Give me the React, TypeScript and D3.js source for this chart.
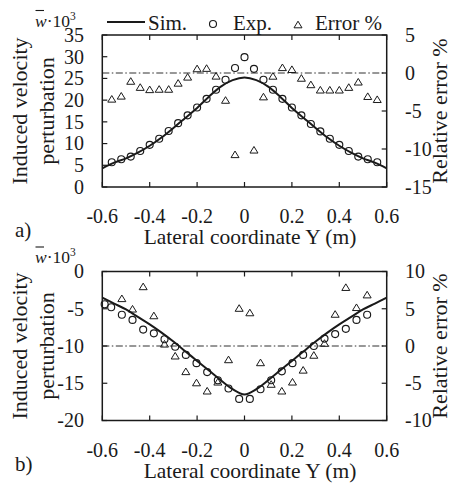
import React from "react";
import * as d3 from "d3";

// ---------- Panel a data ----------
const expAY = [-0.56, -0.52, -0.48, -0.44, -0.4, -0.36, -0.32, -0.28, -0.24, -0.2, -0.16, -0.12, -0.08, -0.04, 0, 0.04, 0.08, 0.12, 0.16, 0.2, 0.24, 0.28, 0.32, 0.36, 0.4, 0.44, 0.48, 0.52, 0.56];
const expAV = [5.7, 6.4, 7.0, 8.3, 9.7, 11.1, 12.9, 14.7, 16.5, 18.3, 20.3, 22.4, 24.7, 27.4, 29.9, 27.2, 24.7, 22.4, 20.3, 18.3, 16.5, 14.5, 12.8, 11.1, 9.7, 8.3, 7.0, 6.4, 5.7];
const errAY = [-0.56, -0.52, -0.48, -0.44, -0.4, -0.36, -0.32, -0.28, -0.24, -0.2, -0.16, -0.12, -0.08, -0.04, 0.04, 0.08, 0.12, 0.16, 0.2, 0.24, 0.28, 0.32, 0.36, 0.4, 0.44, 0.48, 0.52, 0.56];
const errAV = [-3.4, -3.0, -1.05, -1.85, -2.15, -2.1, -2.1, -1.3, -0.5, 0.6, 0.65, -0.37, -3.55, -10.7, -10.1, -3.1, -0.38, 0.75, 0.5, -0.65, -1.5, -2.2, -2.2, -2.2, -1.85, -1.15, -3.05, -3.45];
const simAY = [-0.6, -0.55, -0.5, -0.45, -0.4, -0.35, -0.3, -0.25, -0.2, -0.15, -0.1, -0.05, 0, 0.05, 0.1, 0.15, 0.2, 0.25, 0.3, 0.35, 0.4, 0.45, 0.5, 0.55, 0.6];
const simAV = [4.3, 5.6, 6.6, 7.9, 9.5, 11.4, 13.6, 15.9, 18.2, 20.8, 23.1, 24.6, 25.2, 24.6, 23.1, 20.8, 18.2, 15.9, 13.6, 11.4, 9.5, 7.9, 6.6, 5.6, 4.3];
const leftTicksA = [0, 5, 10, 15, 20, 25, 30, 35];
const rightTicksA = [-15, -10, -5, 0, 5];

// ---------- Panel b data ----------
const expBY = [-0.59, -0.5625, -0.5175, -0.4725, -0.4275, -0.3825, -0.3375, -0.2925, -0.2475, -0.2025, -0.1575, -0.1125, -0.0675, -0.0225, 0.0225, 0.0675, 0.1125, 0.1575, 0.2025, 0.2475, 0.2925, 0.3375, 0.3825, 0.4275, 0.4725, 0.5175];
const expBV = [-4.4, -4.8, -5.8, -6.5, -7.8, -8.3, -9.1, -10.1, -11.2, -12.3, -13.5, -14.6, -15.7, -17.1, -17.1, -15.8, -14.6, -13.4, -12.3, -11.2, -10.0, -9.0, -8.4, -7.7, -6.5, -5.8];
const errBY = [-0.5175, -0.4725, -0.4275, -0.3825, -0.3375, -0.2925, -0.2475, -0.2025, -0.1575, -0.1125, -0.0675, -0.0225, 0.0225, 0.0675, 0.1125, 0.1575, 0.2025, 0.2475, 0.2925, 0.3375, 0.3825, 0.4275, 0.4725, 0.5175];
const errBV = [6.4, 5.0, 8.0, 4.1, 0.3, -1.3, -3.4, -4.9, -6.0, -4.8, -1.8, 5.1, 4.5, -2.2, -5.1, -6.0, -4.8, -3.2, -1.2, 0.4, 4.3, 7.9, 5.2, 6.9];
const simBY = [-0.6, -0.55, -0.5, -0.45, -0.4, -0.35, -0.3, -0.25, -0.2, -0.15, -0.1, -0.05, 0, 0.05, 0.1, 0.15, 0.2, 0.25, 0.3, 0.35, 0.4, 0.45, 0.5, 0.55, 0.6];
const simBV = [-3.5, -4.3, -5.1, -6.1, -7.1, -8.2, -9.4, -10.7, -12.0, -13.3, -14.6, -15.8, -16.5, -15.8, -14.6, -13.3, -12.0, -10.7, -9.4, -8.2, -7.1, -6.1, -5.1, -4.3, -3.5];
const leftTicksB = [-20, -15, -10, -5, 0];
const rightTicksB = [-10, -5, 0, 5, 10];

const xTicks = [-0.6, -0.4, -0.2, 0, 0.2, 0.4, 0.6];
const xTickLabels = ["-0.6", "-0.4", "-0.2", "0", "0.2", "0.4", "0.6"];

const INK = "#1a1a1a";
const FONT = '"Liberation Serif", "DejaVu Serif", "Times New Roman", serif';
const TS: React.CSSProperties = { fontFamily: FONT };

const tri = (x: number, y: number, w = 4, h = 6.6) =>
  `M${x},${y - h / 2}L${x + w},${y + h / 2}L${x - w},${y + h / 2}Z`;

type PanelProps = {
  top: number;
  bottom: number;
  lDom: [number, number];
  rDom: [number, number];
  lTicks: number[];
  rTicks: number[];
  expY: number[];
  expV: number[];
  errY: number[];
  errV: number[];
  simY: number[];
  simV: number[];
  zeroRight: number;
  tag: string;
};

const X0 = 102.3;
const X1 = 386.7;

function Panel(p: PanelProps) {
  const x = d3.scaleLinear().domain([-0.6, 0.6]).range([X0, X1]);
  const yl = d3.scaleLinear().domain(p.lDom).range([p.bottom, p.top]);
  const yr = d3.scaleLinear().domain(p.rDom).range([p.bottom, p.top]);
  const line = d3
    .line<number>()
    .x((_, i) => x(p.simY[i]))
    .y((v) => yl(v))
    .curve(d3.curveCatmullRom);
  const midY = (p.top + p.bottom) / 2;
  const tl = 5;
  return (
    <g>
      <line x1={X0} x2={X1} y1={yr(p.zeroRight)} y2={yr(p.zeroRight)} stroke={INK} strokeWidth={0.9} strokeDasharray="7,2.5,1.5,2.5" />
      <path d={line(p.simV) || ""} fill="none" stroke={INK} strokeWidth={2} />
      {p.expV.map((v, i) => (
        <circle key={"c" + i} cx={x(p.expY[i])} cy={yl(v)} r={3.5} fill="none" stroke={INK} strokeWidth={1.15} />
      ))}
      {p.errV.map((v, i) => (
        <path key={"t" + i} d={tri(x(p.errY[i]), yr(v))} fill="none" stroke={INK} strokeWidth={1} />
      ))}
      <rect x={X0} y={p.top} width={X1 - X0} height={p.bottom - p.top} fill="none" stroke={INK} strokeWidth={1.5} />
      {xTicks.map((t, i) => (
        <g key={"x" + i}>
          <line x1={x(t)} x2={x(t)} y1={p.bottom} y2={p.bottom - tl} stroke={INK} strokeWidth={1.2} />
          <line x1={x(t)} x2={x(t)} y1={p.top} y2={p.top + tl} stroke={INK} strokeWidth={1.2} />
          <text style={TS} x={x(t)} y={p.bottom + 36} textAnchor="middle" fontSize={20}>{xTickLabels[i]}</text>
        </g>
      ))}
      {p.lTicks.map((t, i) => (
        <g key={"l" + i}>
          <line x1={X0} x2={X0 + tl} y1={yl(t)} y2={yl(t)} stroke={INK} strokeWidth={1.2} />
          <text style={TS} x={84} y={yl(t)} dy="0.34em" textAnchor="end" fontSize={20}>{String(t)}</text>
        </g>
      ))}
      {p.rTicks.map((t, i) => (
        <g key={"r" + i}>
          <line x1={X1} x2={X1 - tl} y1={yr(t)} y2={yr(t)} stroke={INK} strokeWidth={1.2} />
          <text style={TS} x={405} y={yr(t)} dy="0.34em" textAnchor="start" fontSize={20}>{String(t)}</text>
        </g>
      ))}
      <text style={TS} x={250} y={p.bottom + 57} textAnchor="middle" fontSize={21.5}>Lateral coordinate Y (m)</text>
      <text style={TS} x={15} y={p.bottom + 50} fontSize={21}>{p.tag}</text>
      <text style={TS} transform={`translate(27,${midY}) rotate(-90)`} textAnchor="middle" fontSize={22}>Induced velocity</text>
      <text style={TS} transform={`translate(54,${midY}) rotate(-90)`} textAnchor="middle" fontSize={22}>perturbation</text>
      <text style={TS} transform={`translate(447,${midY}) rotate(-90)`} textAnchor="middle" fontSize={22}>Relative error %</text>
      <line x1={35.5} x2={44} y1={p.top - 24.5} y2={p.top - 24.5} stroke={INK} strokeWidth={1.1} />
      <text style={TS} x={35} y={p.top - 8.5} fontSize={17.5}>
        <tspan fontStyle="italic">w</tspan>
        <tspan>·10</tspan>
        <tspan fontSize={11.5} dy={-7}>3</tspan>
      </text>
    </g>
  );
}

export default function App() {
  return (
    <svg
      width={452}
      height={483}
      style={{ position: "absolute", left: 0, top: 0, background: "#fff", fontFamily: FONT }}
      fill={INK}
    >
      <rect width={452} height={483} fill="#fff" />
      <g>
        <line x1={107} x2={145} y1={22} y2={22} stroke={INK} strokeWidth={2} />
        <text style={TS} x={148} y={29.5} fontSize={21}>Sim.</text>
        <circle cx={213} cy={24} r={3.5} fill="none" stroke={INK} strokeWidth={1.15} />
        <text style={TS} x={233} y={29.5} fontSize={21}>Exp.</text>
        <path d={tri(298, 24.5)} fill="none" stroke={INK} strokeWidth={1} />
        <text style={TS} x={315} y={29.5} fontSize={21}>Error %</text>
      </g>
      <Panel
        top={35}
        bottom={187}
        lDom={[0, 35]}
        rDom={[-15, 5]}
        lTicks={leftTicksA}
        rTicks={rightTicksA}
        expY={expAY}
        expV={expAV}
        errY={errAY}
        errV={errAV}
        simY={simAY}
        simV={simAV}
        zeroRight={0}
        tag="a)"
      />
      <Panel
        top={271.5}
        bottom={420.5}
        lDom={[-20, 0]}
        rDom={[-10, 10]}
        lTicks={leftTicksB}
        rTicks={rightTicksB}
        expY={expBY}
        expV={expBV}
        errY={errBY}
        errV={errBV}
        simY={simBY}
        simV={simBV}
        zeroRight={0}
        tag="b)"
      />
    </svg>
  );
}
